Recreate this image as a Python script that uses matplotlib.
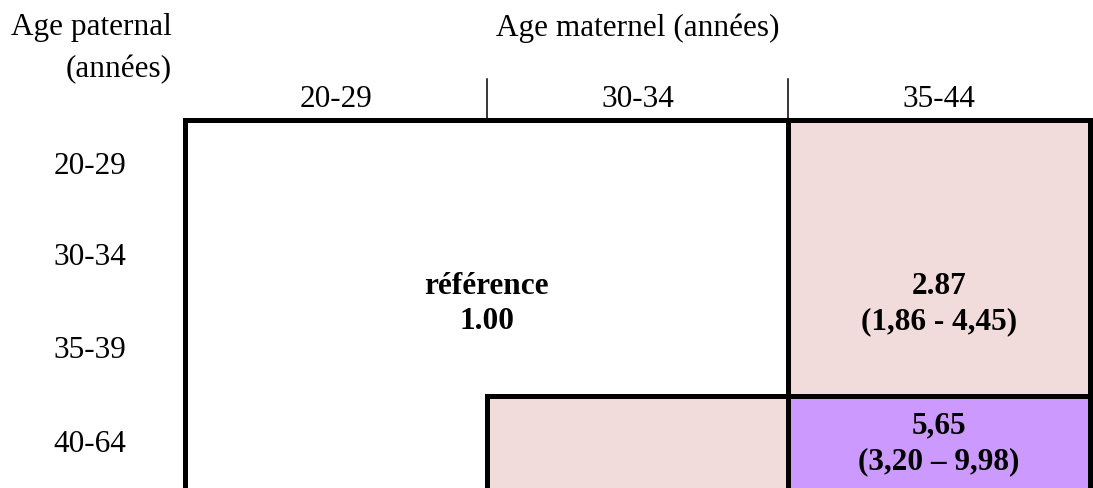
import matplotlib.pyplot as plt
from matplotlib.patches import Rectangle

# table content
col_labels = ["20-29", "30-34", "35-44"]
row_labels = ["20-29", "30-34", "35-39", "40-64"]
row_label_pos = [0.5, 1.49, 2.51, 3.53]

# cells: (col, row, ncols, nrows, colour, text, text_row)
cells = [
    (0, 0, 2, 3, "white", "référence\n1.00", 2.0),
    (0, 3, 1, 1, "white", "", 0),
    (2, 0, 1, 3, "#F2DCDB", "2.87\n(1,86 - 4,45)", 2.0),
    (1, 3, 1, 1, "#F2DCDB", "", 0),
    (2, 3, 1, 1, "#CC99FF", "5,65\n(3,20 – 9,98)", 3.52),
]

plt.rcParams["font.family"] = ["Liberation Serif", "DejaVu Serif"]

fig = plt.figure(figsize=(10.93, 4.88), dpi=100)
ax = fig.add_axes([185 / 1093, 0, 905 / 1093, 368 / 488])
ax.set_xlim(0, 3)
ax.set_ylim(4, 0)
ax.axis("off")

fs = 22.5
thick = 3.6

for c, r, w, h, color, label, ty in cells:
    ax.add_patch(Rectangle((c, r), w, h, facecolor=color, edgecolor="none", zorder=1))
    if label:
        ax.text(c + w / 2, ty, label, ha="center", va="center",
                fontsize=fs, fontweight="bold", linespacing=1.3, zorder=3)

# thick borders
ax.plot([0, 3], [0, 0], color="black", lw=thick, clip_on=False, solid_capstyle="projecting", zorder=2)
ax.plot([0, 0], [0, 4], color="black", lw=thick, clip_on=False, zorder=2)
ax.plot([2, 2], [0, 4], color="black", lw=thick, clip_on=False, zorder=2)
ax.plot([3, 3], [0, 4], color="black", lw=thick, clip_on=False, zorder=2)
ax.plot([1, 3], [3, 3], color="black", lw=thick, clip_on=False, solid_capstyle="projecting", zorder=2)
ax.plot([1, 1], [3, 4], color="black", lw=thick, clip_on=False, zorder=2)

# header
for i, lab in enumerate(col_labels):
    ax.text(i + 0.5, -0.22, lab, ha="center", va="center", fontsize=fs, clip_on=False)
for x in [1, 2]:
    ax.plot([x, x], [-0.45, -0.02], color="black", lw=1.1, clip_on=False)

ax.text(1.5, -1.0, "Age maternel (années)", ha="center", va="center", fontsize=fs)
ax.text(-0.043, -1.0, "Age paternal", ha="right", va="center", fontsize=fs)
ax.text(-0.043, -0.55, "(années)", ha="right", va="center", fontsize=fs)

for lab, y in zip(row_labels, row_label_pos):
    ax.text(-0.315, y, lab, ha="center", va="center", fontsize=fs)

fig.savefig("out.png", dpi=100)
